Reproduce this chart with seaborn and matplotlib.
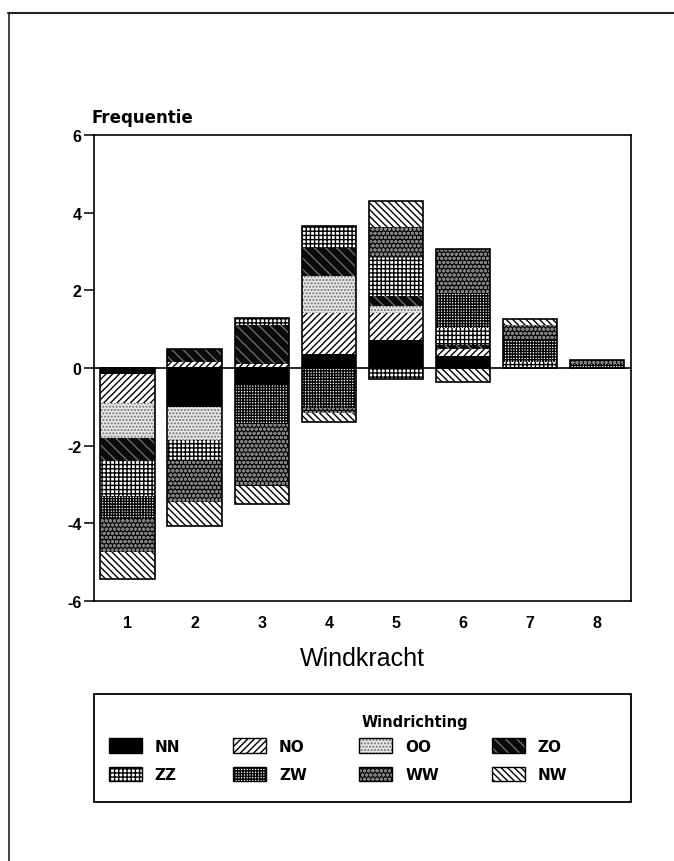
import numpy as np
import pandas as pd
import seaborn as sns
import matplotlib.pyplot as plt
from matplotlib.patches import Patch, Rectangle
from matplotlib.lines import Line2D

# Data: frequentie afwijking per windkracht en windrichting
windkracht = ['1', '2', '3', '4', '5', '6', '7', '8']
richtingen = ['NN', 'NO', 'OO', 'ZO', 'ZZ', 'ZW', 'WW', 'NW']

# positieve delen
nn_pos = [0, 0, 0, 0.36, 0.73, 0.30, 0, 0]
no_pos = [0, 0.15, 0.10, 1.05, 0.69, 0.20, 0, 0]
oo_pos = [0, 0, 0, 0.95, 0.17, 0, 0, 0]
zo_pos = [0, 0.35, 1.00, 0.74, 0.26, 0.10, 0, 0]
zz_pos = [0, 0, 0.20, 0.56, 0.99, 0.43, 0.15, 0]
zw_pos = [0, 0, 0, 0, 0, 0.91, 0.56, 0.10]
ww_pos = [0, 0, 0, 0, 0.78, 1.12, 0.39, 0.10]
nw_pos = [0, 0, 0, 0, 0.69, 0, 0.17, 0]

# negatieve delen
nn_neg = [-0.16, -1.00, -0.43, 0, 0, 0, 0, 0]
no_neg = [-0.74, 0, 0, 0, 0, 0, 0, 0]
oo_neg = [-0.90, -0.86, 0, 0, 0, 0, 0, 0]
zo_neg = [-0.59, 0, 0, 0, 0, 0, 0, 0]
zz_neg = [-0.91, -0.50, 0, 0, -0.28, 0, 0, 0]
zw_neg = [-0.58, 0, -1.00, -1.04, 0, 0, 0, 0]
ww_neg = [-0.85, -1.10, -1.61, -0.13, 0, 0, 0, 0]
nw_neg = [-0.70, -0.60, -0.46, -0.21, 0, -0.35, 0, 0]

# patronen (vlak, arcering, arceerkleur)
stijlen = {
    'NN': ('black', None, 'black'),
    'NO': ('white', '/////', 'black'),
    'OO': ('#e8e8e8', '.....', '#707070'),
    'ZO': ('#0a0a0a', '\\\\\\', '#6a6a6a'),
    'ZZ': ('white', '++++', 'black'),
    'ZW': ('white', '++++++', 'black'),
    'WW': ('#0a0a0a', 'oooo', '#808080'),
    'NW': ('white', '\\\\\\\\\\', 'black'),
}

sns.set_style('ticks')
plt.rcParams['font.family'] = ['Liberation Sans', 'DejaVu Sans']
plt.rcParams['hatch.linewidth'] = 1.0
plt.rcParams['axes.unicode_minus'] = False
plt.rcParams['text.color'] = 'black'
plt.rcParams['axes.labelcolor'] = 'black'

fig = plt.figure(figsize=(6.74, 8.62), dpi=100)
ax = fig.add_axes([94 / 674, 1 - 602 / 862, 536.7 / 674, 466 / 862])

pos = np.cumsum(np.array([nn_pos, no_pos, oo_pos, zo_pos, zz_pos, zw_pos, ww_pos, nw_pos]), axis=0)
neg = np.cumsum(np.array([nn_neg, no_neg, oo_neg, zo_neg, zz_neg, zw_neg, ww_neg, nw_neg]), axis=0)

# gestapeld tekenen: grootste cumulatieve waarde eerst
for cum in (pos, neg):
    for i in reversed(range(len(richtingen))):
        face, hatch, hc = stijlen[richtingen[i]]
        df = pd.DataFrame({'Windkracht': windkracht, 'Frequentie': cum[i]})
        sns.barplot(data=df, x='Windkracht', y='Frequentie', color=face, saturation=1,
                    hatch=hatch, edgecolor=hc, linewidth=0, width=0.81,
                    errorbar=None, ax=ax)
    df = pd.DataFrame({'Windkracht': windkracht, 'Frequentie': cum[-1]})
    sns.barplot(data=df, x='Windkracht', y='Frequentie', color='black', fill=False,
                linewidth=1.2, width=0.81, errorbar=None, ax=ax)

ax.axhline(0, color='black', lw=1.2)
ax.set_xlim(-0.5, 7.5)
ax.set_ylim(-6, 6)
ax.set_yticks([-6, -4, -2, 0, 2, 4, 6])
for s in ax.spines.values():
    s.set_visible(True)
    s.set_color('black')
    s.set_linewidth(1.2)
ax.tick_params(axis='y', length=7, width=1.1, pad=2, labelsize=11.5, colors='black')
ax.tick_params(axis='x', length=0, pad=10, labelsize=11.5, colors='black')
for t in ax.get_xticklabels() + ax.get_yticklabels():
    t.set_fontweight('bold')

ax.set_xlabel('Windkracht', fontsize=18, color='black')
ax.xaxis.set_label_coords(0.5, -0.122)
ax.xaxis.label.set_va('center')
ax.set_ylabel('Frequentie', rotation=0, fontsize=12, fontweight='bold', ha='left',
              va='center', family='DejaVu Sans', color='black')
ax.yaxis.set_label_coords(-0.004, 1.039)

# legenda
handles = []
for r in richtingen:
    face, hatch, hc = stijlen[r]
    handles.append((Patch(facecolor=face, hatch=hatch, edgecolor=hc, lw=0),
                    Patch(facecolor='none', edgecolor='black', lw=1)))
volgorde = [0, 4, 1, 5, 2, 6, 3, 7]
leg = fig.legend([handles[i] for i in volgorde], [richtingen[i] for i in volgorde],
                 ncol=4, loc='upper left', bbox_to_anchor=(109 / 674, 1 - 739 / 862),
                 frameon=False, borderpad=0, borderaxespad=0, handlelength=2.15,
                 handleheight=1.1, handletextpad=0.85, columnspacing=3.45, labelspacing=0.85,
                 prop={'weight': 'bold', 'size': 11, 'family': 'DejaVu Sans'})
for t in leg.get_texts():
    t.set_color('black')
fig.text(415 / 674, 1 - 722 / 862, 'Windrichting', ha='center', va='center',
         fontsize=10.5, fontweight='bold', family='DejaVu Sans', color='black')
fig.patches.append(Rectangle((94 / 674, 1 - 803 / 862), 536.7 / 674, 108 / 862,
                             transform=fig.transFigure, fill=False, edgecolor='black', lw=1.3))

# paginakader
fig.add_artist(Line2D([8 / 674, 1], [1 - 14 / 862] * 2, color='#222222', lw=1.5))
fig.add_artist(Line2D([9 / 674] * 2, [0, 1 - 14 / 862], color='#222222', lw=1.2))

fig.savefig('out.png', dpi=100)
